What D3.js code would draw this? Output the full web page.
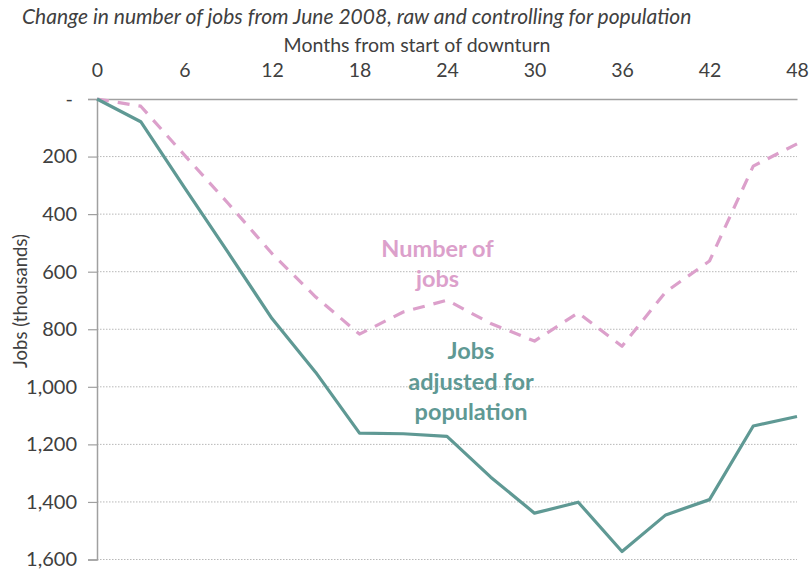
<!DOCTYPE html>
<html>
<head>
<meta charset="utf-8">
<script src="https://cdn.jsdelivr.net/npm/d3@7"></script>
<style>
  html, body { margin: 0; padding: 0; background: #fff; }
  svg { display: block; font-family: Lato, "Open Sans", sans-serif; }
</style>
</head>
<body>
<svg id="chart" width="810" height="574"></svg>
<script>
// Months since June 2008, sampled quarterly
const months = [0, 3, 6, 9, 12, 15, 18, 21, 24, 27, 30, 33, 36, 39, 42, 45, 48];
// Jobs lost (thousands), raw count
const numberOfJobs = [0, 25, 195, 363, 537, 688, 817, 740, 699, 780, 841, 743, 859, 670, 563, 233, 156];
// Jobs lost (thousands), adjusted for population growth
const jobsAdjusted = [0, 79, 308, 534, 763, 950, 1161, 1163, 1172, 1314, 1439, 1401, 1572, 1445, 1392, 1136, 1103];
const xTicks = [0, 6, 12, 18, 24, 30, 36, 42, 48];
const yTicks = [0, 200, 400, 600, 800, 1000, 1200, 1400, 1600];

const svg = d3.select("#chart");
const plotLeft = 97, plotRight = 797, plotTop = 99, plotBottom = 559.5;

const x = d3.scaleLinear().domain([0, 48]).range([plotLeft, plotRight]);
const y = d3.scaleLinear().domain([0, 1600]).range([plotTop, plotBottom]);

const textColor = "#404040";
const axisColor = "#a0a0a0";
const teal = "#5f9994";
const pink = "#dca0cb";

// Title
svg.append("text")
  .attr("x", 22).attr("y", 24)
  .attr("font-size", 21).attr("font-style", "italic")
  .attr("fill", textColor)
  .text("Change in number of jobs from June 2008, raw and controlling for population");

// Horizontal gridlines (dotted)
svg.append("g")
  .selectAll("line")
  .data(yTicks.filter(d => d > 0))
  .join("line")
  .attr("x1", plotLeft).attr("x2", plotRight)
  .attr("y1", d => y(d)).attr("y2", d => y(d))
  .attr("stroke", "#b8b8b8").attr("stroke-width", 1)
  .attr("stroke-dasharray", "1.5,1.5");

// Left axis with outward ticks
const yAxis = d3.axisLeft(y)
  .tickValues(yTicks)
  .tickSize(9)
  .tickPadding(11)
  .tickFormat(d => d === 0 ? "-" : d3.format(",")(d));
const gy = svg.append("g").attr("transform", `translate(${plotLeft},0)`).call(yAxis);
gy.select(".domain").attr("stroke", axisColor).attr("stroke-width", 1.5);
gy.selectAll(".tick line").attr("stroke", axisColor).attr("stroke-width", 1.2);
gy.selectAll(".tick text")
  .attr("font-size", 20).attr("fill", textColor)
  .attr("font-family", "Lato, sans-serif");
gy.select(".tick text").attr("dx", -4);

// Top axis
const xAxis = d3.axisTop(x).tickValues(xTicks).tickSize(0).tickPadding(22);
const gx = svg.append("g").attr("transform", `translate(0,${plotTop})`).call(xAxis);
gx.select(".domain").attr("stroke", axisColor).attr("stroke-width", 1.5);
gx.selectAll(".tick text")
  .attr("font-size", 19.5).attr("fill", textColor)
  .attr("font-family", "Lato, sans-serif");

// Axis titles
svg.append("text")
  .attr("x", 417).attr("y", 52)
  .attr("text-anchor", "middle")
  .attr("font-size", 19.5).attr("fill", textColor)
  .text("Months from start of downturn");

svg.append("text")
  .attr("transform", "translate(27,301) rotate(-90)")
  .attr("text-anchor", "middle")
  .attr("font-size", 18.5).attr("fill", textColor)
  .text("Jobs (thousands)");

// Series lines
const line = d3.line().x((d, i) => x(months[i])).y(d => y(d));

svg.append("path")
  .datum(numberOfJobs)
  .attr("d", line)
  .attr("fill", "none")
  .attr("stroke", pink).attr("stroke-width", 3.2)
  .attr("stroke-dasharray", "12,9")
  .attr("stroke-linejoin", "round");

svg.append("path")
  .datum(jobsAdjusted)
  .attr("d", line)
  .attr("fill", "none")
  .attr("stroke", teal).attr("stroke-width", 3.2)
  .attr("stroke-linejoin", "round");

// Series labels
function label(lines, cx, y0, step, color) {
  const t = svg.append("text")
    .attr("text-anchor", "middle")
    .attr("font-size", 23.5).attr("font-weight", "bold")
    .attr("fill", color);
  lines.forEach((s, i) => {
    t.append("tspan").attr("x", cx).attr("y", y0 + i * step).text(s);
  });
}
label(["Number of", "jobs"], 437.5, 257, 30, pink);
label(["Jobs", "adjusted for", "population"], 471, 359, 30.5, teal);
</script>
</body>
</html>
